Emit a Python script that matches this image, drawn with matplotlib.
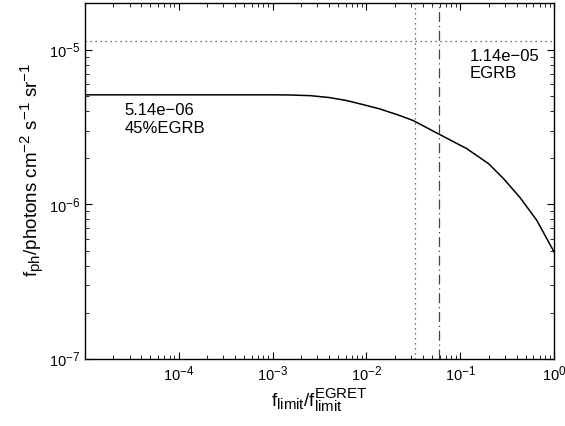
import numpy as np
import matplotlib
matplotlib.use('Agg')
import matplotlib.pyplot as plt
from matplotlib.ticker import LogLocator, NullFormatter
import matplotlib._mathtext as mtext

# MATLAB-style sub/superscripts are nearly full size
if hasattr(mtext, 'SHRINK_FACTOR'):
    mtext.SHRINK_FACTOR = 0.8

plt.rcParams['font.family'] = ['Liberation Sans', 'DejaVu Sans']
plt.rcParams['mathtext.fontset'] = 'custom'
plt.rcParams['mathtext.rm'] = 'Liberation Sans'
plt.rcParams['mathtext.it'] = 'Liberation Sans'
plt.rcParams['mathtext.bf'] = 'Liberation Sans:bold'

# curve
f_ratio = [1e-5, 1e-4, 1e-3, 1.5e-3, 2.5e-3, 4e-3, 6.1e-3, 9.2e-3, 1.38e-2, 2.26e-2,
           3.14e-2, 5.8e-2, 0.117, 0.2, 0.29, 0.43, 0.65, 1.0]
f_ph = [5.1e-6, 5.1e-6, 5.1e-6, 5.09e-6, 5.04e-6, 4.9e-6, 4.69e-6, 4.41e-6, 4.14e-6, 3.75e-6,
        3.48e-6, 2.86e-6, 2.29e-6, 1.83e-6, 1.46e-6, 1.11e-6, 7.9e-7, 4.9e-7]

egrb = 1.14e-5
limit_dotted = 0.0327
limit_dashdot = 0.059

fig = plt.figure(figsize=(5.65, 4.26), dpi=100)
ax = fig.add_axes([0.150, 0.157, 0.831, 0.836])

ax.plot(f_ratio, f_ph, color='k', lw=1.1)
ax.axhline(egrb, color='#444444', ls=(0, (1, 3)), lw=0.9)
ax.axvline(limit_dotted, color='#444444', ls=(0, (1, 3)), lw=0.9)
ax.axvline(limit_dashdot, color='#444444', ls=(0, (8, 3, 1, 3)), lw=0.9)

ax.set_xscale('log')
ax.set_yscale('log')
ax.set_xlim(1e-5, 1)
ax.set_ylim(1e-7, 2e-5)
ax.set_xticks([1e-4, 1e-3, 1e-2, 1e-1, 1e0])
ax.set_yticks([1e-7, 1e-6, 1e-5])
ax.xaxis.set_minor_locator(LogLocator(base=10, subs=np.arange(2, 10), numticks=20))
ax.yaxis.set_minor_locator(LogLocator(base=10, subs=np.arange(2, 10), numticks=20))
ax.xaxis.set_minor_formatter(NullFormatter())
ax.yaxis.set_minor_formatter(NullFormatter())
ax.tick_params(which='both', direction='in', top=True, right=True, labelsize=10.5)
ax.tick_params(which='major', length=5, width=0.8)
ax.tick_params(which='minor', length=3, width=0.6)
for s in ax.spines.values():
    s.set_linewidth(1.0)

ax.text(2.65e-5, 4.49e-6, '5.14e\u221206\n45%EGRB', fontsize=12, va='top', ha='left')
ax.text(0.127, 1.015e-5, '1.14e\u221205\nEGRB', fontsize=12, va='top', ha='left')

ax.set_xlabel(r'$\mathregular{f_{limit}/f_{limit}^{EGRET}}$', fontsize=13.5, labelpad=2)
ax.set_ylabel(r'$\mathregular{f_{ph}/photons\ cm^{-2}\ s^{-1}\ sr^{-1}}$', fontsize=13.5)
ax.yaxis.set_label_coords(-0.083, 0.531)

fig.savefig('out.png', dpi=100)
